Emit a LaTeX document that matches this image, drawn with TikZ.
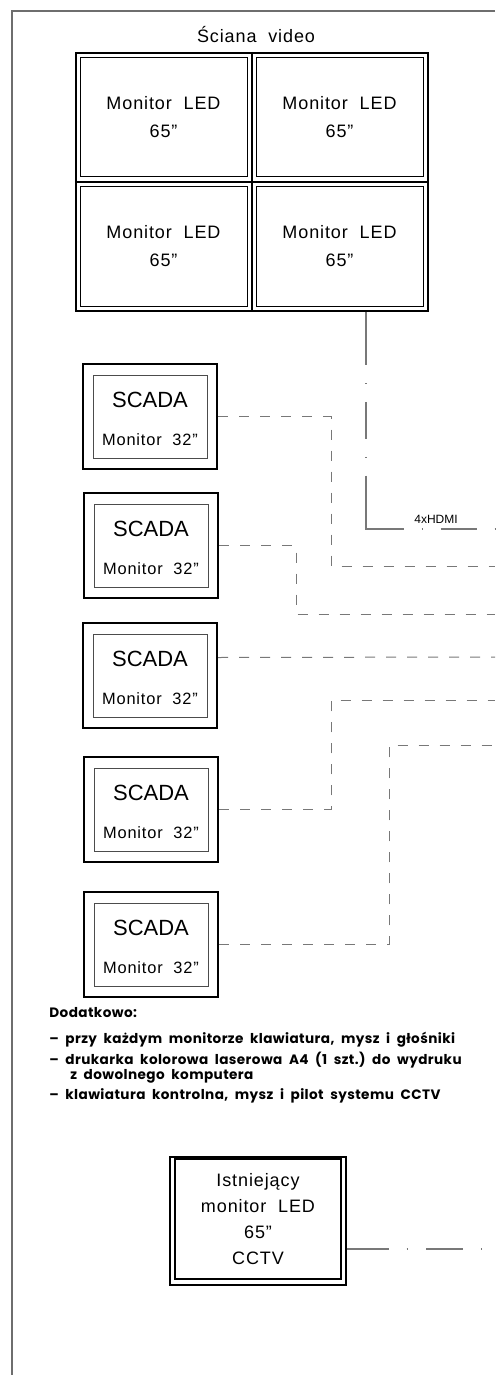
\documentclass[tikz,border=0pt]{standalone}
\usepackage{fontspec}
\setmainfont{Liberation Sans}
\newfontfamily\cadfont[LetterSpace=5]{Liberation Sans}
\newfontfamily\notefont[LetterSpace=3]{Poppins}
\usetikzlibrary{calc}
\definecolor{linia}{RGB}{120,120,120}
\definecolor{ramkaszara}{RGB}{110,110,110}

\tikzset{
  ramka/.style={draw=ramkaszara, line width=0.7pt},
  ekran/.style={draw, line width=0.5pt, minimum width=83.5pt, minimum height=59.5pt, inner sep=0pt, align=center, font=\cadfont\fontsize{9pt}{14pt}\selectfont},
  scadazew/.style={draw, line width=1.1pt, minimum width=67pt, minimum height=52.5pt, inner sep=0pt},
  scadawew/.style={draw=black!70, line width=0.5pt, minimum width=57pt, minimum height=41.5pt, inner sep=0pt},
  scadanap/.style={font=\fontsize{11pt}{13pt}\selectfont},
  monnap/.style={font=\cadfont\fontsize{8.2pt}{10pt}\selectfont},
  kabel/.style={draw=linia, line width=0.5pt, dash pattern=on 5pt off 5.5pt},
  hdmi/.style={draw=linia, line width=0.6pt},
  uwaga/.style={anchor=west, inner sep=0pt, font=\notefont\bfseries\fontsize{6.8pt}{8pt}\selectfont}
}

\begin{document}
\begin{tikzpicture}[x=0.5pt, y=-0.5pt]
    \useasboundingbox (0,0) rectangle (495,1375);
    %ramka
    \draw[ramka] (495,11) -- (12,11) -- (12,1375);
    %sciana video
    \node[font=\cadfont\fontsize{9pt}{11pt}\selectfont] (tytul) at (256,35) {Ściana\ \ video};
    \node[draw, line width=1.1pt, minimum width=176pt, minimum height=129pt, inner sep=0pt] (sciana) at (252,182) {};
    \draw[line width=0.8pt] (sciana.north) -- (sciana.south);
    \draw[line width=0.8pt] (sciana.west) -- (sciana.east);
    \node[ekran] (m1) at (163.5,117.5) {Monitor\ \ LED\\65”};
    \node[ekran] (m2) at (339.5,117.5) {Monitor\ \ LED\\65”};
    \node[ekran] (m3) at (163.5,246.5) {Monitor\ \ LED\\65”};
    \node[ekran] (m4) at (339.5,246.5) {Monitor\ \ LED\\65”};
    %kabel 4xHDMI
    \coordinate (hdmirog) at (366,529);
    \coordinate (hdmikoniec) at (495,529);
    \draw[hdmi, dash pattern=on 26.5pt off 9pt on 0.4pt off 9pt on 18.5pt off 9pt on 0.4pt off 9pt on 45.5pt off 9pt on 0.4pt off 9pt on 18pt off 9pt on 0.4pt off 9pt]
        (sciana.south -| hdmirog) -- (hdmirog) -- (hdmikoniec);
    \node[font=\fontsize{6pt}{7pt}\selectfont, inner sep=0pt] (hdmitxt) at (436,519) {4xHDMI};
    %monitory SCADA
    \foreach \n/\x/\y in {1/150/416.5, 2/151/545.5, 3/150/675.5, 4/151/809.5, 5/151/944.5}{
        \node[scadazew] (sc\n) at (\x,\y) {};
        \node[scadawew] (sc\n w) at (sc\n) {};
        \node[scadanap] at ([yshift=8.25pt]sc\n.center) {SCADA};
        \node[monnap] at ([yshift=-11.5pt]sc\n.center) {Monitor\ \ 32”};
    }
    %kable SCADA
    \coordinate (k1) at (331,566);  \coordinate (e1) at (495,566);
    \coordinate (k2) at (296,614);  \coordinate (e2) at (495,614);
    \coordinate (e3) at (495,657);
    \coordinate (k4) at (331,700);  \coordinate (e4) at (495,700);
    \coordinate (k5) at (389,745);  \coordinate (e5) at (495,745);
    \draw[kabel] (sc1.east) -| (k1) -- (e1);
    \draw[kabel] (sc2.east) -| (k2) -- (e2);
    \draw[kabel] ([yshift=9pt]sc3.east) -- (e3);
    \draw[kabel] (sc4.east) -| (k4) -- (e4);
    \draw[kabel] (sc5.east) -| (k5) -- (e5);
    %uwagi
    \node[uwaga] (u0) at (49,1013) {Dodatkowo:};
    \node[uwaga] (u1) at (49,1040) {–\ \ przy\ \ każdym\ \ monitorze\ \ klawiatura,\ \ mysz\ \ i\ \ głośniki};
    \node[uwaga] (u2) at (49,1060) {–\ \ drukarka\ \ kolorowa\ \ laserowa\ \ A4\ \ (1\ \ szt.)\ \ do\ \ wydruku};
    \node[uwaga] (u3) at (70,1076) {z\ \ dowolnego\ \ komputera};
    \node[uwaga] (u4) at (49,1096) {–\ \ klawiatura\ \ kontrolna,\ \ mysz\ \ i\ \ pilot\ \ systemu\ \ CCTV};
    %monitor CCTV
    \node[draw, line width=0.6pt, minimum width=88pt, minimum height=64pt, inner sep=0pt] (cctv) at (258,1221) {};
    \node[draw, line width=0.6pt, minimum width=83pt, minimum height=60pt, inner sep=0pt, align=center, font=\cadfont\fontsize{9pt}{13pt}\selectfont] (cctvw) at (258,1219) {Istniejący\\monitor\ \ LED\\65”\\CCTV};
    \coordinate (cctvkoniec) at (495,1249);
    \draw[hdmi, dash pattern=on 21pt off 9pt on 0.4pt off 9.5pt on 18.5pt off 9pt on 0.4pt off 9pt] ([yshift=-14pt]cctv.east) -- (cctvkoniec);
\end{tikzpicture}
\end{document}
